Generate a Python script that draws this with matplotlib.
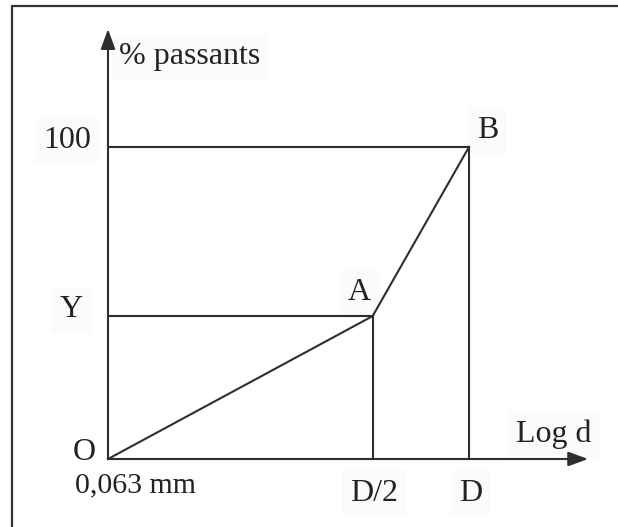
import matplotlib.pyplot as plt
from matplotlib.lines import Line2D

# curve points O, A, B  (x on a log d scale normalised so that D = 1)
point_names = ['O', 'A', 'B']
log_d = [0.0, 0.733, 1.0]
passants = [0.0, 45.8, 100.0]

x_labels = ['0,063 mm', 'D/2', 'D']
y_labels = ['Y', '100']

W, H = 618, 527
px_x = 361.0   # pixels per x unit
px_y = 3.12    # pixels per y unit
x0_px, y0_px = 108, 68

plt.rcParams['font.family'] = ['Liberation Serif', 'DejaVu Serif']
fs = 23
ink = '#2e2e2e'
txt = '#222222'

fig = plt.figure(figsize=(W / 100, H / 100), dpi=100)
ax = fig.add_axes([0, 0, 1, 1])
ax.set_xlim(-x0_px / px_x, (W - x0_px) / px_x)
ax.set_ylim(-y0_px / px_y, (H - y0_px) / px_y)
ax.axis('off')

# frame (only left and top edges visible)
fig.add_artist(Line2D([12 / W, 12 / W, 1], [0, 1 - 6 / H, 1 - 6 / H],
                      transform=fig.transFigure, color='#333333', lw=1.6))

# axes with arrows
x_tip = 1.33
y_tip = 137.8
arrow = dict(arrowstyle='-|>,head_length=0.55,head_width=0.2', color=ink,
             lw=1.5, mutation_scale=22, shrinkA=0, shrinkB=0)
ax.annotate('', xy=(x_tip, 0), xytext=(0, 0), arrowprops=arrow)
ax.annotate('', xy=(0, y_tip), xytext=(0, 0), arrowprops=arrow)

# curve
ax.plot(log_d, passants, color=ink, lw=1.5, zorder=3)

# guide lines from A and B
for xv, yv in zip(log_d[1:], passants[1:]):
    ax.plot([0, xv], [yv, yv], color=ink, lw=1.5, zorder=3)
    ax.plot([xv, xv], [0, yv], color=ink, lw=1.5, zorder=3)

bg = dict(facecolor='#fbfbfb', edgecolor='none', pad=6)

# axis titles
ax.text(0.03, 129, '% passants', fontsize=fs, ha='left', va='center',
        color=txt, bbox=bg, zorder=1)
ax.text(1.235, 7.8, 'Log d', fontsize=fs, ha='center', va='center',
        color=txt, bbox=bg, zorder=1)

# y labels
for lab, yv, xc in zip(y_labels, passants[1:], [-0.1025, -0.1136]):
    ax.text(xc, yv + 2.0, lab, fontsize=fs, ha='center', va='center',
            color=txt, bbox=bg, zorder=1)

# x labels
ax.text(log_d[0] + 0.075, -8.3, x_labels[0], fontsize=fs - 1.5, ha='center',
        va='center', color=txt, zorder=1)
for lab, xv in zip(x_labels[1:], log_d[1:]):
    ax.text(xv + 0.004, -10.9, lab, fontsize=fs, ha='center', va='center',
            color=txt, bbox=bg, zorder=1)

# point names
ax.text(-0.065, 2.2, point_names[0], fontsize=fs, ha='center', va='center',
        color=txt, zorder=1)
ax.text(log_d[1] - 0.038, passants[1] + 7.5, point_names[1], fontsize=fs,
        ha='center', va='center', color=txt, bbox=bg, zorder=1)
ax.text(log_d[2] + 0.051, passants[2] + 5.2, point_names[2], fontsize=fs,
        ha='center', va='center', color=txt, bbox=bg, zorder=1)

fig.savefig('out.png', dpi=100, facecolor='white')
